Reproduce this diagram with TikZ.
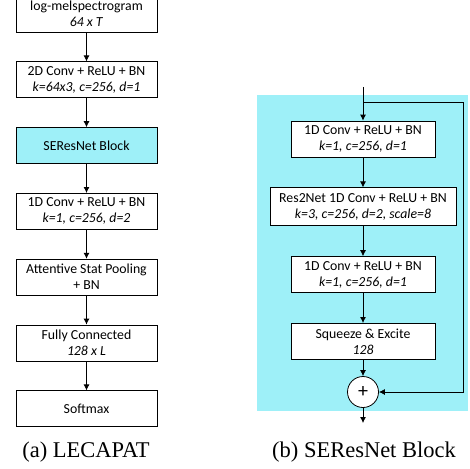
\documentclass[tikz,border=0pt]{standalone}
\usepackage{fontspec}
\setmainfont{Liberation Serif}
\newfontfamily\boxfont{Carlito}
\usetikzlibrary{positioning, arrows.meta}
\definecolor{seblue}{HTML}{9EF0F8}

\begin{document}
\begin{tikzpicture}[x=1pt, y=-1pt, line width=0.8pt,
	every node/.style={draw, font=\boxfont\fontsize{13.8}{16}\selectfont, align=center, inner sep=0pt},
	blk/.style={minimum width=141pt, minimum height=36pt, fill=white},
	wblk/.style={blk, minimum width=144pt},
	arr/.style={-{Latex[length=6pt, width=6pt]}},
	caption/.style={draw=none, font=\rmfamily\fontsize{22.5}{26}\selectfont}]
\useasboundingbox (0,0) rectangle (470,468);
% (a) LECAPAT
\node[blk] (mel) at (86.5,14) {log-melspectrogram\\\textit{64 x T}};
\node[blk, below=29pt of mel] (conv2d) {2D Conv + ReLU + BN\\\textit{k=64x3, c=256, d=1}};
\node[blk, below=29pt of conv2d, fill=seblue] (seres) {SEResNet Block};
\node[blk, below=29pt of seres] (conv1d) {1D Conv + ReLU + BN\\\textit{k=1, c=256, d=2}};
\node[blk, below=29pt of conv1d] (pool) {Attentive Stat Pooling\\+ BN};
\node[blk, below=29pt of pool] (fc) {Fully Connected\\\textit{128 x L}};
\node[blk, below=29pt of fc] (soft) {Softmax};
\foreach \a/\b in {mel/conv2d, conv2d/seres, seres/conv1d, conv1d/pool, pool/fc, fc/soft}
	\draw[arr] (\a) -- (\b);
\node[caption] (capa) at (86,452) {(a) LECAPAT};

% (b) SEResNet Block
\fill[seblue] (257,95) rectangle (468,411);
\coordinate (in) at (363,87);
\coordinate (split) at (363,102);
\node[wblk] (r1) at (363,139) {1D Conv + ReLU + BN\\\textit{k=1, c=256, d=1}};
\node[wblk, minimum width=186pt, minimum height=38pt, below=30pt of r1] (r2) {Res2Net 1D Conv + ReLU + BN\\\textit{k=3, c=256, d=2, scale=8}};
\node[wblk, below=30pt of r2] (r3) {1D Conv + ReLU + BN\\\textit{k=1, c=256, d=1}};
\node[wblk, below=30pt of r3] (sqex) {Squeeze \& Excite\\\textit{128}};
\node[circle, fill=white, minimum size=31pt, font=\boxfont\fontsize{20}{20}\selectfont] (plus) at (363,392) {+};
\coordinate (fb) at (463,392);
\coordinate (out) at (363,423);
\draw[arr] (in) -- (r1);
\foreach \a/\b in {r1/r2, r2/r3, r3/sqex, sqex/plus, plus/out}
	\draw[arr] (\a) -- (\b);
\draw[arr] (split) -| (fb) -- (plus);
\node[caption] (capb) at (364,452) {(b) SEResNet Block};
\end{tikzpicture}
\end{document}
